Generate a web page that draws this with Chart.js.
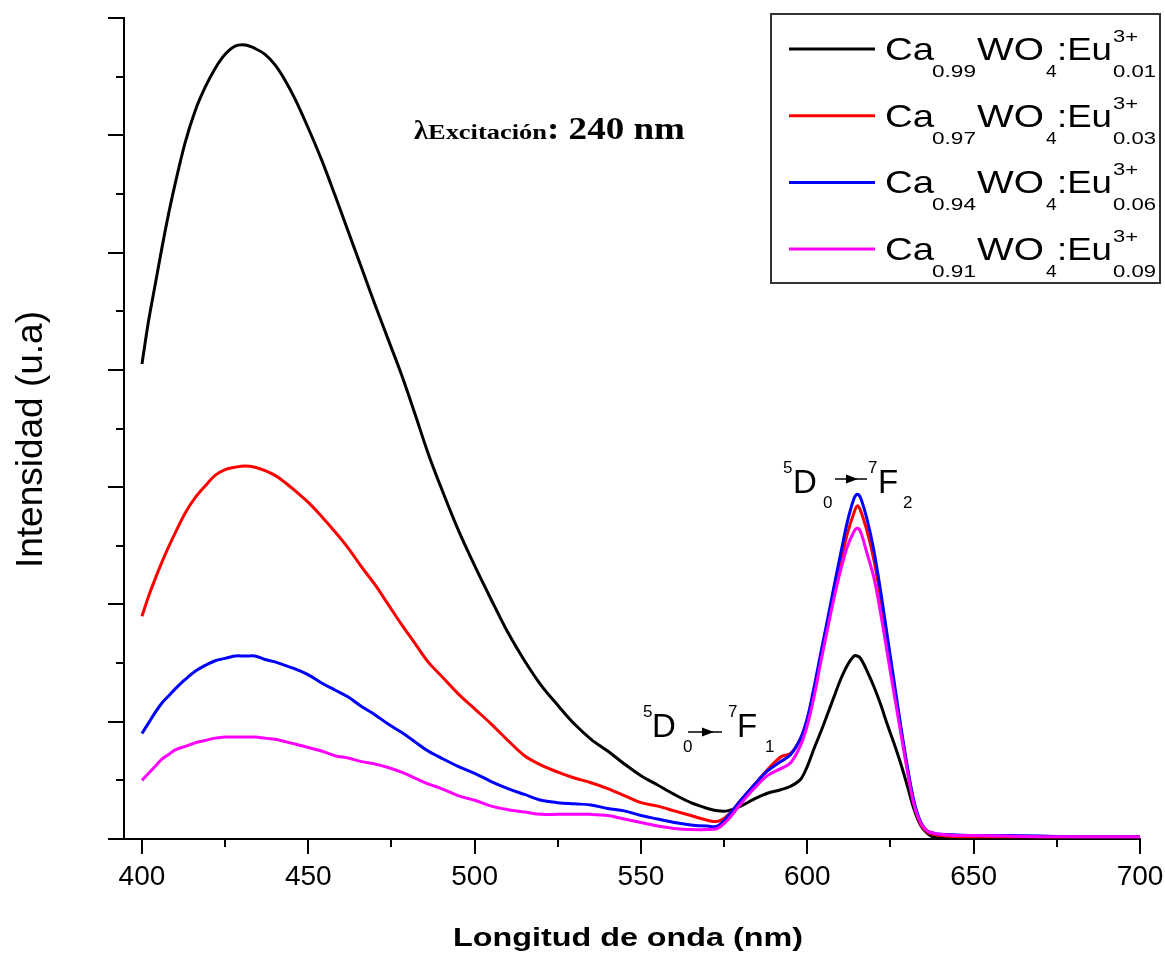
<!DOCTYPE html>
<html><head><meta charset="utf-8">
<script src="https://cdn.jsdelivr.net/npm/chart.js@4.4.1/dist/chart.umd.min.js"></script>
<style>html,body{margin:0;padding:0;background:#fff;overflow:hidden}canvas{display:block}</style>
</head><body>
<canvas id="c" width="1165" height="956"></canvas>
<script>
// ---- data ----
const wavelengths = [400,402,404,406,408,410,
  413,416,419,422,425,428,431,434,437,440,443,446,
  450,454,458,462,466,470,474,478,482,486,490,
  495,500,505,510,515,520,525,530,535,540,545,550,555,560,565,570,
  573,576,580,584,588,592,595,598,600,
  602,604,606,608,610,612,614,615,616,618,620,622,624,626,628,630,632,634,636,638,640,
  645,650,660,670,680,690,700];

const eu001 = [4.05,4.42,4.73,5.04,5.33,5.59,
  5.94,6.21,6.41,6.57,6.69,6.76,6.77,6.74,6.69,6.60,6.47,6.31,
  6.06,5.79,5.49,5.18,4.87,4.56,4.26,3.96,3.63,3.29,2.99,
  2.64,2.33,2.04,1.76,1.52,1.31,1.14,0.98,0.85,0.75,0.64,0.54,0.46,0.38,0.31,0.26,
  0.24,0.24,0.28,0.34,0.39,0.42,0.45,0.51,0.62,
  0.77,0.91,1.06,1.21,1.36,1.48,1.56,1.56,1.54,1.43,1.30,1.15,0.98,0.82,0.65,0.46,0.26,0.12,0.05,0.015,0.01,
  0.005,0.005,0.005,0.005,0.005,0.005,0.005];

const eu003 = [1.90,2.07,2.22,2.36,2.49,2.61,
  2.78,2.91,3.01,3.10,3.15,3.17,3.18,3.17,3.14,3.10,3.04,2.97,
  2.87,2.75,2.62,2.48,2.32,2.17,2.00,1.83,1.67,1.51,1.39,
  1.24,1.11,0.98,0.84,0.71,0.63,0.57,0.52,0.48,0.43,0.37,0.31,0.28,0.24,0.20,0.16,
  0.15,0.20,0.33,0.46,0.59,0.70,0.73,0.86,1.02,
  1.27,1.55,1.83,2.10,2.36,2.60,2.78,2.84,2.80,2.62,2.38,2.06,1.69,1.32,0.95,0.61,0.31,0.13,0.06,0.04,0.03,
  0.02,0.02,0.02,0.02,0.02,0.02,0.02];

const eu006 = [0.90,0.99,1.08,1.16,1.22,1.28,
  1.36,1.43,1.48,1.52,1.54,1.56,1.56,1.56,1.53,1.51,1.48,1.45,
  1.40,1.33,1.27,1.21,1.13,1.06,0.98,0.91,0.83,0.75,0.69,
  0.62,0.56,0.49,0.43,0.38,0.33,0.31,0.30,0.29,0.26,0.24,0.20,0.17,0.14,0.12,0.11,
  0.11,0.19,0.33,0.46,0.58,0.66,0.72,0.86,1.03,
  1.29,1.58,1.86,2.15,2.43,2.70,2.90,2.94,2.91,2.72,2.46,2.12,1.74,1.36,0.98,0.63,0.33,0.15,0.07,0.05,0.04,
  0.035,0.03,0.03,0.025,0.02,0.02,0.02];

const eu009 = [0.50,0.56,0.62,0.68,0.72,0.76,
  0.79,0.82,0.84,0.86,0.87,0.87,0.87,0.87,0.86,0.85,0.83,0.81,
  0.78,0.75,0.71,0.69,0.66,0.64,0.61,0.57,0.52,0.47,0.43,
  0.37,0.33,0.28,0.25,0.23,0.21,0.21,0.21,0.21,0.20,0.17,0.14,0.11,0.09,0.08,0.08,
  0.09,0.16,0.30,0.43,0.54,0.60,0.65,0.80,0.97,
  1.21,1.50,1.78,2.05,2.29,2.49,2.62,2.65,2.62,2.43,2.23,1.93,1.59,1.25,0.92,0.59,0.30,0.14,0.07,0.05,0.04,
  0.03,0.03,0.025,0.02,0.02,0.02,0.02];

const caFractions = ['0.99','0.97','0.94','0.91'];
const euFractions = ['0.01','0.03','0.06','0.09'];
const seriesValues = [eu001, eu003, eu006, eu009];
const seriesColors = ['#000000','#ff0000','#0000ff','#ff00ff'];
const xTickLabels = [400,450,500,550,600,650,700];
const xMinorTicks = [425,475,525,575,625,675];
const yMajorTicks = [0,1,2,3,4,5,6,7];
const yMinorTicks = [0.5,1.5,2.5,3.5,4.5,5.5,6.5];

const SANS = '"Liberation Sans", Arial, sans-serif';
const SERIF = '"Liberation Serif", "Times New Roman", serif';

function txt(ctx, s, x, y, font, opt) {
  opt = opt || {};
  ctx.save();
  ctx.font = font;
  ctx.fillStyle = opt.color || '#000';
  ctx.textAlign = 'left';
  ctx.textBaseline = 'alphabetic';
  const w = ctx.measureText(s).width;
  const sx = opt.width ? opt.width / w : (opt.sx || 1);
  ctx.translate(x, y);
  if (opt.rot) ctx.rotate(opt.rot);
  ctx.scale(sx, 1);
  ctx.fillText(s, 0, 0);
  ctx.restore();
  return w * sx;
}

function arrow(ctx, x1, x2, y, h1, h2, hh) {
  ctx.save();
  ctx.strokeStyle = '#000'; ctx.fillStyle = '#000'; ctx.lineWidth = 1.5;
  ctx.beginPath(); ctx.moveTo(x1, y); ctx.lineTo(x2, y); ctx.stroke();
  ctx.beginPath(); ctx.moveTo(h1, y - hh); ctx.lineTo(h2, y); ctx.lineTo(h1, y + hh); ctx.closePath(); ctx.fill();
  ctx.restore();
}

const decor = {
  id: 'decor',
  afterDraw(chart) {
    const {ctx, chartArea: ca, scales: {x, y}} = chart;
    ctx.save();
    ctx.strokeStyle = '#000';
    ctx.lineWidth = 2;
    xTickLabels.concat(xMinorTicks).forEach(v => {
      const px = Math.round(x.getPixelForValue(v));
      const len = xTickLabels.includes(v) ? 15 : 8;
      ctx.beginPath(); ctx.moveTo(px, ca.bottom); ctx.lineTo(px, ca.bottom + len); ctx.stroke();
    });
    yMajorTicks.concat(yMinorTicks).forEach(v => {
      const py = Math.round(y.getPixelForValue(v));
      const len = yMajorTicks.includes(v) ? 16 : 8;
      ctx.beginPath(); ctx.moveTo(ca.left, py); ctx.lineTo(ca.left - len, py); ctx.stroke();
    });
    ctx.restore();

    // axis titles
    txt(ctx, 'Longitud de onda (nm)', 453, 946, 'bold 26px ' + SANS, {width: 350});
    txt(ctx, 'Intensidad (u.a)', 41.5, 568, '36px ' + SANS, {width: 257, rot: -Math.PI / 2});

    // excitation note
    txt(ctx, 'λ', 414, 139, 'bold 28px ' + SERIF, {width: 14});
    txt(ctx, 'Excitación', 428, 139, 'bold 20px ' + SERIF, {width: 119});
    txt(ctx, ': 240 nm', 547, 139, 'bold 32px ' + SERIF, {width: 138});

    // transition labels
    const big = '33px ' + SANS, small = '17px ' + SANS;
    txt(ctx, '5', 783, 473, small); txt(ctx, 'D', 793, 493, big); txt(ctx, '0', 823, 508, small);
    arrow(ctx, 835, 867, 479, 846, 858, 4.5);
    txt(ctx, '7', 868, 473, small); txt(ctx, 'F', 878, 493, big); txt(ctx, '2', 903, 508, small);

    txt(ctx, '5', 643, 717, small); txt(ctx, 'D', 652, 737, big); txt(ctx, '0', 683, 752, small);
    arrow(ctx, 688, 722, 732, 702, 714, 4.5);
    txt(ctx, '7', 728, 717, small); txt(ctx, 'F', 737, 737, big); txt(ctx, '1', 765, 752, small);

    // legend
    ctx.save();
    ctx.fillStyle = '#fff';
    ctx.fillRect(771, 14, 389, 269);
    ctx.strokeStyle = '#333';
    ctx.lineWidth = 2;
    ctx.strokeRect(771, 14, 389, 269);
    ctx.restore();
    const lf = '32px ' + SANS, sf = '16px ' + SANS;
    for (let i = 0; i < 4; i++) {
      const y0 = 49 + i * 66.7;
      ctx.save();
      ctx.strokeStyle = seriesColors[i];
      ctx.lineWidth = 3;
      ctx.beginPath(); ctx.moveTo(789, y0); ctx.lineTo(875, y0); ctx.stroke();
      ctx.restore();
      txt(ctx, 'Ca', 885, y0 + 11, lf, {sx: 1.2});
      txt(ctx, caFractions[i], 932, y0 + 28, sf, {width: 44});
      txt(ctx, 'WO', 977, y0 + 11, lf, {width: 67});
      txt(ctx, '4', 1046, y0 + 28, sf, {sx: 1.2});
      txt(ctx, ':Eu', 1057, y0 + 11, lf, {width: 55});
      txt(ctx, '3+', 1113, y0 - 7, sf, {width: 25});
      txt(ctx, euFractions[i], 1113, y0 + 28, sf, {width: 43});
    }
  }
};

const datasets = seriesValues.map((vals, i) => ({
  label: 'Ca' + caFractions[i] + 'WO4:Eu3+' + euFractions[i],
  data: wavelengths.map((w, j) => ({x: w, y: vals[j]})),
  borderColor: seriesColors[i],
  backgroundColor: seriesColors[i],
  borderWidth: 3,
  pointRadius: 0,
  fill: false,
  tension: 0.35,
  order: 3 - i
}));

new Chart(document.getElementById('c'), {
  type: 'line',
  data: {datasets},
  options: {
    responsive: false,
    animation: false,
    devicePixelRatio: 1,
    events: [],
    layout: {padding: {left: 0, top: 18, right: 25, bottom: 0}},
    plugins: {legend: {display: false}, tooltip: {enabled: false}},
    scales: {
      x: {
        type: 'linear', min: 394.6, max: 700,
        afterFit: s => { s.height = 117; s.paddingLeft = 0; s.paddingRight = 0; },
        grid: {display: false, drawTicks: false},
        border: {display: true, color: '#000', width: 2},
        ticks: {
          stepSize: 50, autoSkip: false, maxRotation: 0, minRotation: 0, includeBounds: false,
          padding: 21, color: '#000', font: {family: SANS, size: 28},
          callback: v => xTickLabels.includes(v) ? String(v) : ''
        }
      },
      y: {
        type: 'linear', min: 0, max: 7,
        afterFit: s => { s.width = 124; s.paddingTop = 0; s.paddingBottom = 0; },
        grid: {display: false, drawTicks: false},
        border: {display: true, color: '#000', width: 2},
        ticks: {display: false, stepSize: 1}
      }
    }
  },
  plugins: [decor]
});
</script>
</body></html>
